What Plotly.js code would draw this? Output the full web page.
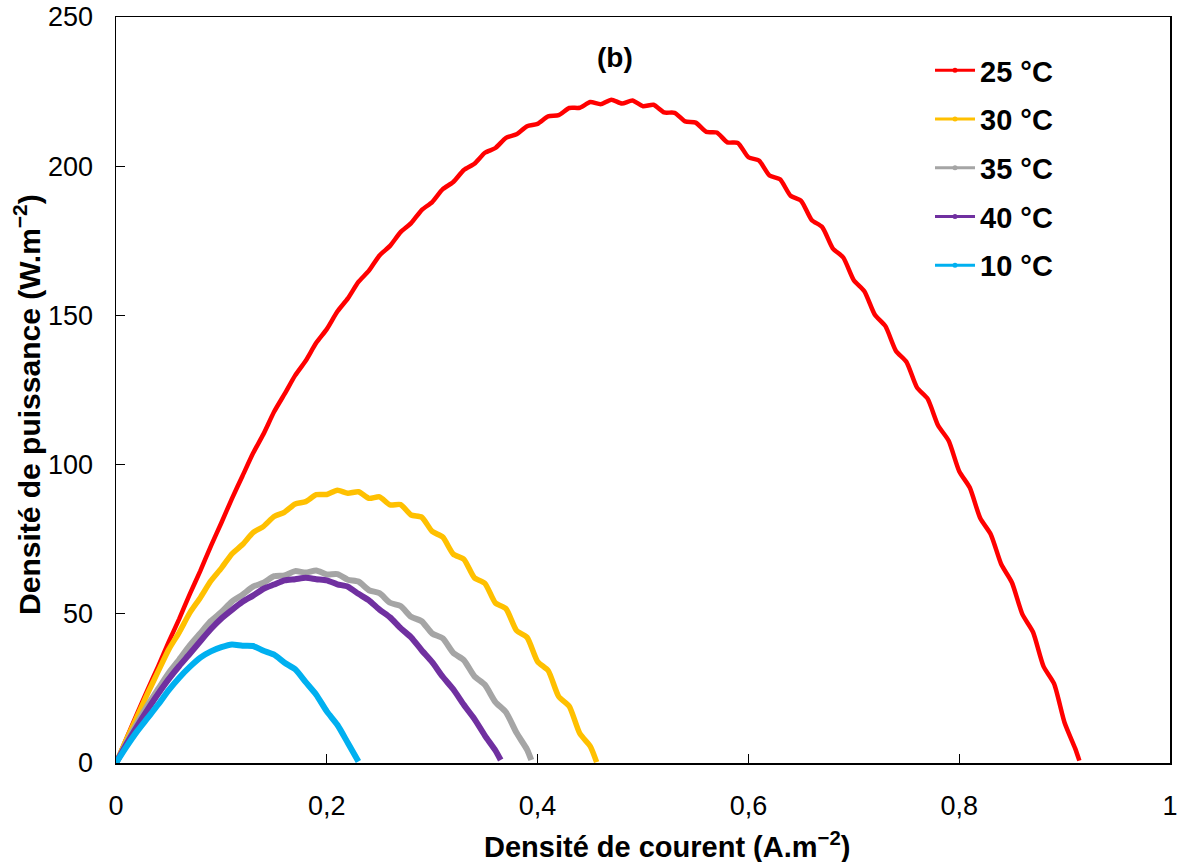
<!DOCTYPE html>
<html>
<head>
<meta charset="utf-8">
<script src="https://cdn.plot.ly/plotly-3.0.1.min.js"></script>
<style>html,body{margin:0;padding:0;background:#fff}#chart{width:1178px;height:862px}</style>
</head>
<body>
<div id="chart"></div>
<script>
// Series names (legend order)
const seriesNames = ["25 °C", "30 °C", "35 °C", "40 °C", "10 °C"];
const seriesColors = ["#FF0000", "#FFC000", "#A5A5A5", "#7030A0", "#00B0F0"];
const xTitle = 'Densité de courent (A.m<sup>−2</sup>)';
const yTitle = 'Densité de puissance (W.m<sup>−2</sup>)';
const panelLabel = '(b)';

// 25 °C
const x25 = [0,0.01,0.02,0.03,0.04,0.05,0.06,0.07,0.08,0.09,0.10,0.11,0.12,0.13,0.14,0.15,0.16,0.17,0.18,0.19,0.20,0.21,0.22,0.23,0.24,0.25,0.26,0.27,0.28,0.29,0.30,0.31,0.32,0.33,0.34,0.35,0.36,0.37,0.38,0.39,0.40,0.41,0.42,0.43,0.44,0.45,0.46,0.47,0.48,0.49,0.50,0.51,0.52,0.53,0.54,0.55,0.56,0.57,0.58,0.59,0.60,0.61,0.62,0.63,0.64,0.65,0.66,0.67,0.68,0.69,0.70,0.71,0.72,0.73,0.74,0.75,0.76,0.77,0.78,0.79,0.80,0.81,0.82,0.83,0.84,0.85,0.86,0.87,0.88,0.89,0.90,0.91,0.914];
const y25 = [0,8.3,16.5,24.6,32.4,40.6,48.3,56.6,64.4,72.7,80.5,88.6,96.2,103.8,110.3,117.7,123.7,129.9,134.8,140.8,145.4,151.3,155.7,161.2,165.0,170.1,173.3,177.9,180.9,185.3,188.0,192.3,194.7,198.7,200.8,204.5,206.1,209.5,210.7,213.4,214.2,216.7,217.1,219.5,219.6,221.5,220.8,222.3,221.0,222.0,220.1,220.6,218.0,217.9,215.0,214.6,211.5,211.3,208.0,207.8,203.0,201.9,196.9,195.6,190.1,188.4,182.0,179.6,172.5,169.4,161.8,158.1,150.2,146.4,138.1,134.4,125.8,122.1,113.1,108.0,97.8,92.3,82.0,76.6,66.5,60.5,49.8,43.9,32.4,26.6,13.5,4.9,0.8];

// 30 °C
const x30 = [0,0.01,0.02,0.03,0.04,0.05,0.06,0.07,0.08,0.09,0.10,0.11,0.12,0.13,0.14,0.15,0.16,0.17,0.18,0.19,0.20,0.21,0.22,0.23,0.24,0.25,0.26,0.27,0.28,0.29,0.30,0.31,0.32,0.33,0.34,0.35,0.36,0.37,0.38,0.39,0.40,0.41,0.42,0.43,0.44,0.45,0.456];
const y30 = [0,7.9,15.5,23.3,30.7,38.0,43.8,50.3,55.4,61.0,65.3,70.1,73.2,77.2,79.3,82.6,84.1,86.8,87.6,89.9,90.0,91.4,90.4,90.9,88.7,89.2,86.5,86.6,83.1,82.4,77.6,75.7,70.0,68.3,62.1,60.2,53.6,51.7,44.4,42.1,34.0,31.0,22.3,19.0,9.9,5.6,0.3];

// 35 °C
const x35 = [0,0.01,0.02,0.03,0.04,0.05,0.06,0.07,0.08,0.09,0.10,0.11,0.12,0.13,0.14,0.15,0.16,0.17,0.18,0.19,0.20,0.21,0.22,0.23,0.24,0.25,0.26,0.27,0.28,0.29,0.30,0.31,0.32,0.33,0.34,0.35,0.36,0.37,0.38,0.39,0.394];
const y35 = [0,6.8,13.3,19.3,24.8,30.2,34.7,39.4,43.5,47.6,50.6,54.1,56.4,59.1,60.4,62.6,62.9,64.3,63.8,64.5,63.2,63.3,61.4,60.8,57.9,56.9,53.7,52.6,49.0,47.5,43.4,41.8,36.9,34.5,29.1,26.2,20.4,17.0,10.1,4.5,1.0];

// 40 °C
const x40 = [0,0.01,0.02,0.03,0.04,0.05,0.06,0.07,0.08,0.09,0.10,0.11,0.12,0.13,0.14,0.15,0.16,0.17,0.18,0.19,0.20,0.21,0.22,0.23,0.24,0.25,0.26,0.27,0.28,0.29,0.30,0.31,0.32,0.33,0.34,0.35,0.36,0.365];
const y40 = [0,6.4,12.3,17.9,23.2,28.1,32.5,36.6,40.8,44.9,48.4,51.3,54.0,56.1,58.4,59.8,61.2,61.6,62.1,61.6,61.2,59.9,59.1,56.7,54.5,51.4,48.8,45.2,42.1,37.8,33.8,28.9,24.7,19.5,14.8,9.2,4.2,1.0];

// 10 °C
const x10 = [0,0.01,0.02,0.03,0.04,0.05,0.06,0.07,0.08,0.09,0.10,0.11,0.12,0.13,0.14,0.15,0.16,0.17,0.18,0.19,0.20,0.21,0.22,0.23];
const y10 = [0,5.5,10.6,15.1,19.6,24.4,28.6,32.2,35.3,37.4,38.8,39.7,39.3,39.2,37.6,36.3,33.6,31.4,27.1,22.9,17.3,12.8,6.7,0.5];

const seriesX = [x25, x30, x35, x40, x10];
const seriesY = [y25, y30, y35, y40, y10];
const lineWidths = [4.5, 5.5, 6, 6, 6];

const FONT = "'Liberation Sans', Arial, sans-serif";

const traces = [];
// data traces
for (let i = 0; i < seriesNames.length; i++) {
  traces.push({
    x: seriesX[i], y: seriesY[i], type: 'scatter', mode: 'lines',
    name: seriesNames[i], showlegend: false,
    line: {color: seriesColors[i], width: lineWidths[i], shape: 'spline', smoothing: 0.6},
    hoverinfo: 'x+y'
  });
}
// legend entries
for (let i = 0; i < seriesNames.length; i++) {
  traces.push({
    x: [null], y: [null], type: 'scatter', mode: 'lines+markers',
    name: seriesNames[i], legendgroup: 'g' + i, showlegend: true,
    line: {color: seriesColors[i], width: 3},
    marker: {color: seriesColors[i], size: 5}
  });
}

const layout = {
  width: 1178, height: 862,
  margin: {l: 116, r: 8, t: 17, b: 99},
  paper_bgcolor: '#fff', plot_bgcolor: '#fff',
  separators: ', ',
  font: {family: FONT, color: '#000', size: 28},
  showlegend: true,
  legend: {
    x: 0.7723, y: 0.9625, xanchor: 'left', yanchor: 'top',
    bgcolor: 'rgba(0,0,0,0)', borderwidth: 0,
    font: {family: FONT, size: 29, color: '#000', weight: 'bold'},
    tracegroupgap: 8, itemwidth: 40
  },
  xaxis: {
    range: [0, 1], dtick: 0.2, tick0: 0,
    showgrid: false, zeroline: false,
    showline: true, linecolor: '#000', linewidth: 1.5, mirror: true,
    ticks: 'inside', ticklen: 9, tickwidth: 1.3, tickcolor: '#000',
    tickfont: {family: FONT, size: 27, color: '#000'},
    ticklabelstandoff: 18
  },
  yaxis: {
    range: [0, 250], dtick: 50, tick0: 0,
    showgrid: false, zeroline: false,
    showline: true, linecolor: '#000', linewidth: 1.5, mirror: true,
    ticks: 'inside', ticklen: 9, tickwidth: 1.3, tickcolor: '#000',
    tickfont: {family: FONT, size: 27, color: '#000'},
    ticklabelstandoff: 16
  },
  annotations: [
    {text: panelLabel, xref: 'paper', yref: 'paper', x: 0.4734, y: 0.946, xanchor: 'center', yanchor: 'middle', showarrow: false,
     font: {family: FONT, size: 28, color: '#000', weight: 'bold'}},
    {text: xTitle, xref: 'paper', yref: 'paper', x: 0.5228, y: -0.110, xanchor: 'center', yanchor: 'middle', showarrow: false,
     font: {family: FONT, size: 29, color: '#000', weight: 'bold'}},
    {text: yTitle, xref: 'paper', yref: 'paper', x: -0.0845, y: 0.4812, xanchor: 'center', yanchor: 'middle', textangle: -90, showarrow: false,
     font: {family: FONT, size: 30, color: '#000', weight: 'bold'}}
  ]
};

Plotly.newPlot('chart', traces, layout, {staticPlot: true, displayModeBar: false});
</script>
</body>
</html>
